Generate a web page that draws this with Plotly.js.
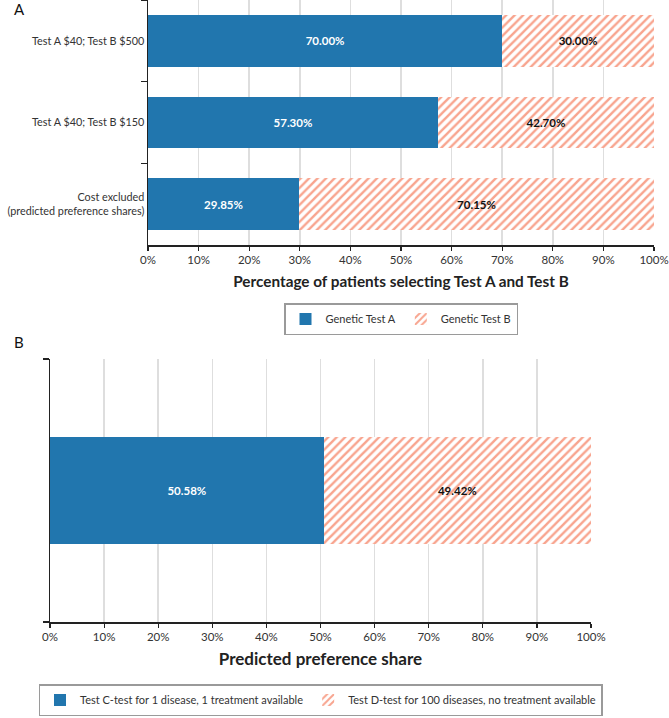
<!DOCTYPE html>
<html>
<head>
<meta charset="utf-8">
<script src="https://cdn.plot.ly/plotly-3.0.1.min.js"></script>
<style>html,body{margin:0;padding:0;background:#fff;}#chart{width:669px;height:718px;}</style>
</head>
<body>
<div id="chart"></div>
<script>
// Panel A data
const catsA = ["Test A $40; Test B $500", "Test A $40; Test B $150", "Cost excluded<br>(predicted preference shares)"];
const testA = [70.00, 57.30, 29.85];
const testB = [30.00, 42.70, 70.15];
// Panel B data
const catsB = [" "];
const testC = [50.58];
const testD = [49.42];
const xTicks = [0, 10, 20, 30, 40, 50, 60, 70, 80, 90, 100];

const W = 669, H = 718;
const FONT = "Lato, 'Open Sans', sans-serif";
const BLUE = "#2176ae";
const SALMON = "#f8a48e";
const hatch = {shape: "/", fgcolor: SALMON, bgcolor: "#ffffff", size: 6, solidity: 0.4};

const traces = [
  {type: "bar", orientation: "h", name: "Genetic Test A", y: catsA, x: testA, xaxis: "x", yaxis: "y",
   width: 0.63, marker: {color: BLUE, line: {width: 0}}, texttemplate: "%{x:.2f}%", textposition: "inside",
   insidetextanchor: "middle", textfont: {color: "#ffffff", size: 11.5, family: FONT, weight: "bold"}, legend: "legend", hoverinfo: "x+name"},
  {type: "bar", orientation: "h", name: "Genetic Test B", y: catsA, x: testB, xaxis: "x", yaxis: "y",
   width: 0.63, marker: {color: "#ffffff", pattern: hatch, line: {width: 0}}, texttemplate: "%{x:.2f}%", textposition: "inside",
   insidetextanchor: "middle", textfont: {color: "#111111", size: 11.5, family: FONT, weight: "bold"}, legend: "legend", hoverinfo: "x+name"},
  {type: "bar", orientation: "h", name: "Test C-test for 1 disease, 1 treatment available", y: catsB, x: testC, xaxis: "x2", yaxis: "y2",
   width: 0.41, marker: {color: BLUE, line: {width: 0}}, texttemplate: "%{x:.2f}%", textposition: "inside",
   insidetextanchor: "middle", textfont: {color: "#ffffff", size: 11.5, family: FONT, weight: "bold"}, legend: "legend2", hoverinfo: "x+name"},
  {type: "bar", orientation: "h", name: "Test D-test for 100 diseases, no treatment available", y: catsB, x: testD, xaxis: "x2", yaxis: "y2",
   width: 0.41, marker: {color: "#ffffff", pattern: hatch, line: {width: 0}}, texttemplate: "%{x:.2f}%", textposition: "inside",
   insidetextanchor: "middle", textfont: {color: "#111111", size: 11.5, family: FONT, weight: "bold"}, legend: "legend2", hoverinfo: "x+name"}
];

function xax(domain, title, tsize, standoff) {
  return {domain: domain, range: [0, 100], tickvals: xTicks, ticktext: xTicks.map(v => v + "%"),
    showgrid: true, gridcolor: "#dedede", gridwidth: 1.5, zeroline: false,
    showline: true, linecolor: "#222222", linewidth: 1.5, ticks: "outside", ticklen: 4, tickcolor: "#222222", tickwidth: 1.2,
    tickfont: {size: 11.5, color: "#333333"}, fixedrange: true,
    title: {text: title, font: {size: tsize, weight: "bold", color: "#222222"}, standoff: standoff}};
}
function yax(domain, anchor) {
  return {domain: domain, anchor: anchor, type: "category", autorange: "reversed", showgrid: false, zeroline: false,
    showline: true, linecolor: "#222222", linewidth: 1.5, ticks: "outside", tickson: "boundaries", ticklen: 6,
    tickcolor: "#222222", tickwidth: 1.2, tickfont: {size: 10.8, color: "#333333"}, fixedrange: true, ticklabelstandoff: 0};
}

const legendBase = {orientation: "h", xanchor: "center", yanchor: "top", bordercolor: "#9a9a9a", borderwidth: 1.5,
  font: {size: 11, color: "#333333"}, itemwidth: 30, traceorder: "normal", tracegroupgap: 0};

const layout = {
  width: W, height: H, margin: {l: 0, r: 0, t: 0, b: 0}, paper_bgcolor: "#ffffff", plot_bgcolor: "#ffffff",
  font: {family: FONT, color: "#222222"}, barmode: "stack", showlegend: true,
  xaxis: Object.assign(xax([148 / W, 654 / W], "Percentage of patients selecting Test A and Test B", 15.3, 11), {anchor: "y"}),
  yaxis: yax([1 - 245 / H, 1], "x"),
  xaxis2: Object.assign(xax([50 / W, 591 / W], "Predicted preference share", 17, 11), {anchor: "y2"}),
  yaxis2: yax([1 - 622 / H, 1 - 359 / H], "x2"),
  legend: Object.assign({}, legendBase, {x: 401 / W, y: 1 - 303 / H}),
  legend2: Object.assign({}, legendBase, {x: 320.5 / W, y: 1 - 684 / H}),
  annotations: [
    {text: "A", xref: "paper", yref: "paper", x: 12 / W, y: 1 - 9 / H, xanchor: "left", yanchor: "middle", showarrow: false, font: {size: 15, color: "#111111"}},
    {text: "B", xref: "paper", yref: "paper", x: 12 / W, y: 1 - 342 / H, xanchor: "left", yanchor: "middle", showarrow: false, font: {size: 15, color: "#111111"}}
  ]
};

Plotly.newPlot("chart", traces, layout, {displayModeBar: false, staticPlot: true});
</script>
</body>
</html>
